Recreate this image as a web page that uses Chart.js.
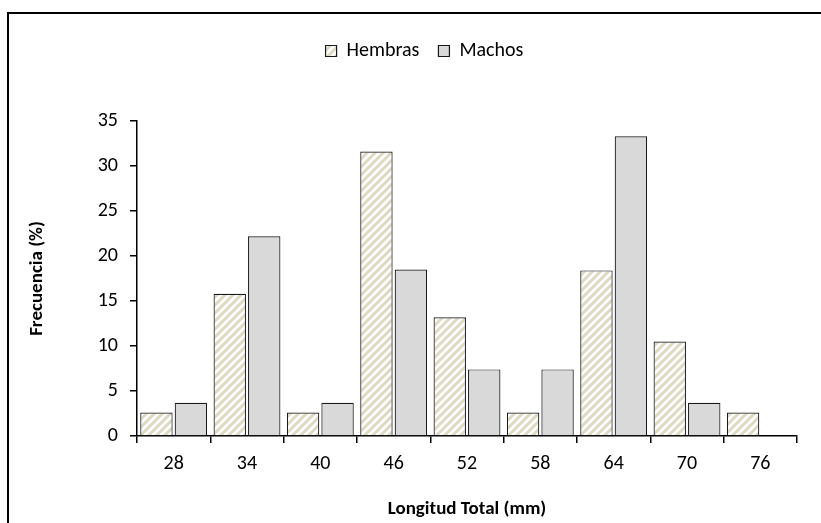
<!DOCTYPE html>
<html>
<head>
<meta charset="utf-8">
<title>Frecuencia por longitud total</title>
<script src="https://cdn.jsdelivr.net/npm/chart.js@4.4.1/dist/chart.umd.min.js"></script>
<style>
    body { margin: 0; background: #ffffff; }
    #chartBox { width: 821px; height: 523px; }
</style>
</head>
<body>
<div id="chartBox"><canvas id="grafic-longitud"></canvas></div>
<script>
/* Data */
const categories = ['28', '34', '40', '46', '52', '58', '64', '70', '76'];
const hembras = [2.6, 15.8, 2.6, 31.6, 13.2, 2.6, 18.4, 10.5, 2.6];
const machos = [3.7, 22.2, 3.7, 18.5, 7.4, 7.4, 33.3, 3.7, 0];
const yTicks = [0, 5, 10, 15, 20, 25, 30, 35];

const fontFamily = "Carlito, Calibri, Lato, sans-serif";

/* Hatch pattern for Hembras */
function createHatch() {
    const size = 8;
    const c = document.createElement('canvas');
    c.width = size;
    c.height = size;
    const p = c.getContext('2d');
    p.fillStyle = '#ffffff';
    p.fillRect(0, 0, size, size);
    p.strokeStyle = '#ddd9c3';
    p.lineWidth = 3;
    p.beginPath();
    p.moveTo(0, size); p.lineTo(size, 0);
    p.moveTo(-size / 2, size / 2); p.lineTo(size / 2, -size / 2);
    p.moveTo(size / 2, size * 1.5); p.lineTo(size * 1.5, size / 2);
    p.stroke();
    return p.createPattern(c, 'repeat');
}

/* Plugins */
const outerFrame = {
    id: 'outerFrame',
    beforeDraw(chart) {
        const ctx = chart.ctx;
        ctx.save();
        ctx.strokeStyle = '#000000';
        ctx.lineWidth = 2;
        ctx.strokeRect(8, 13, 840, 540);
        ctx.restore();
    }
};

// legend sits higher than the plot and a bit right of the canvas centre
const legendPlace = {
    id: 'legendPlace',
    afterInit(chart) {
        const legend = chart.legend;
        if (!legend) return;
        const fit = legend.fit;
        legend.fit = function () {
            fit.call(legend);
            legend.height = 99;
        };
    },
    afterLayout(chart) {
        const legend = chart.legend;
        if (!legend) return;
        legend.left += 26;
        legend.right += 26;
    }
};

function createChart() {
    const ctx = document.getElementById('grafic-longitud').getContext('2d');

    const data = {
        labels: categories,
        datasets: [{
            label: 'Hembras',
            data: hembras,
            backgroundColor: createHatch(),
            borderColor: '#1a1a1a',
            borderWidth: 1.2,
            categoryPercentage: 0.94,
            barPercentage: 0.94
        }, {
            label: 'Machos',
            data: machos,
            backgroundColor: '#d9d9d9',
            borderColor: '#1a1a1a',
            borderWidth: 1.2,
            categoryPercentage: 0.94,
            barPercentage: 0.94
        }]
    };

    const options = {
        responsive: true,
        maintainAspectRatio: false,
        animation: false,
        layout: {
            padding: { left: 0, right: 24, top: 22, bottom: 0 }
        },
        plugins: {
            legend: {
                position: 'top',
                align: 'center',
                labels: {
                    boxWidth: 11,
                    boxHeight: 11,
                    padding: 19,
                    color: '#000000',
                    font: { family: fontFamily, size: 20 }
                }
            },
            tooltip: { enabled: false }
        },
        scales: {
            x: {
                grid: {
                    offset: true,
                    drawOnChartArea: false,
                    drawTicks: true,
                    tickLength: 7,
                    color: '#000000',
                    lineWidth: 1.5
                },
                border: { display: true, color: '#000000', width: 1.5 },
                ticks: {
                    color: '#000000',
                    padding: 9,
                    font: { family: fontFamily, size: 20 }
                },
                title: {
                    display: true,
                    text: 'Longitud Total (mm)',
                    color: '#000000',
                    padding: { top: 0, bottom: 2 },
                    font: { family: fontFamily, size: 19, weight: 'bold' }
                },
                afterFit(scale) { scale.height = 87; }
            },
            y: {
                min: 0,
                max: 35,
                afterBuildTicks(scale) {
                    scale.ticks = yTicks.map(v => ({ value: v }));
                },
                grid: {
                    drawOnChartArea: false,
                    drawTicks: true,
                    tickLength: 7,
                    color: '#000000',
                    lineWidth: 1.5
                },
                border: { display: true, color: '#000000', width: 1.5 },
                ticks: {
                    color: '#000000',
                    padding: 12,
                    font: { family: fontFamily, size: 20 }
                },
                title: {
                    display: true,
                    text: 'Frecuencia (%)',
                    color: '#000000',
                    padding: { top: 26, bottom: 0 },
                    font: { family: fontFamily, size: 19, weight: 'bold' }
                },
                afterFit(scale) { scale.width = 137; }
            }
        }
    };

    new Chart(ctx, {
        type: 'bar',
        data: data,
        options: options,
        plugins: [outerFrame, legendPlace]
    });
}

createChart();
</script>
</body>
</html>
